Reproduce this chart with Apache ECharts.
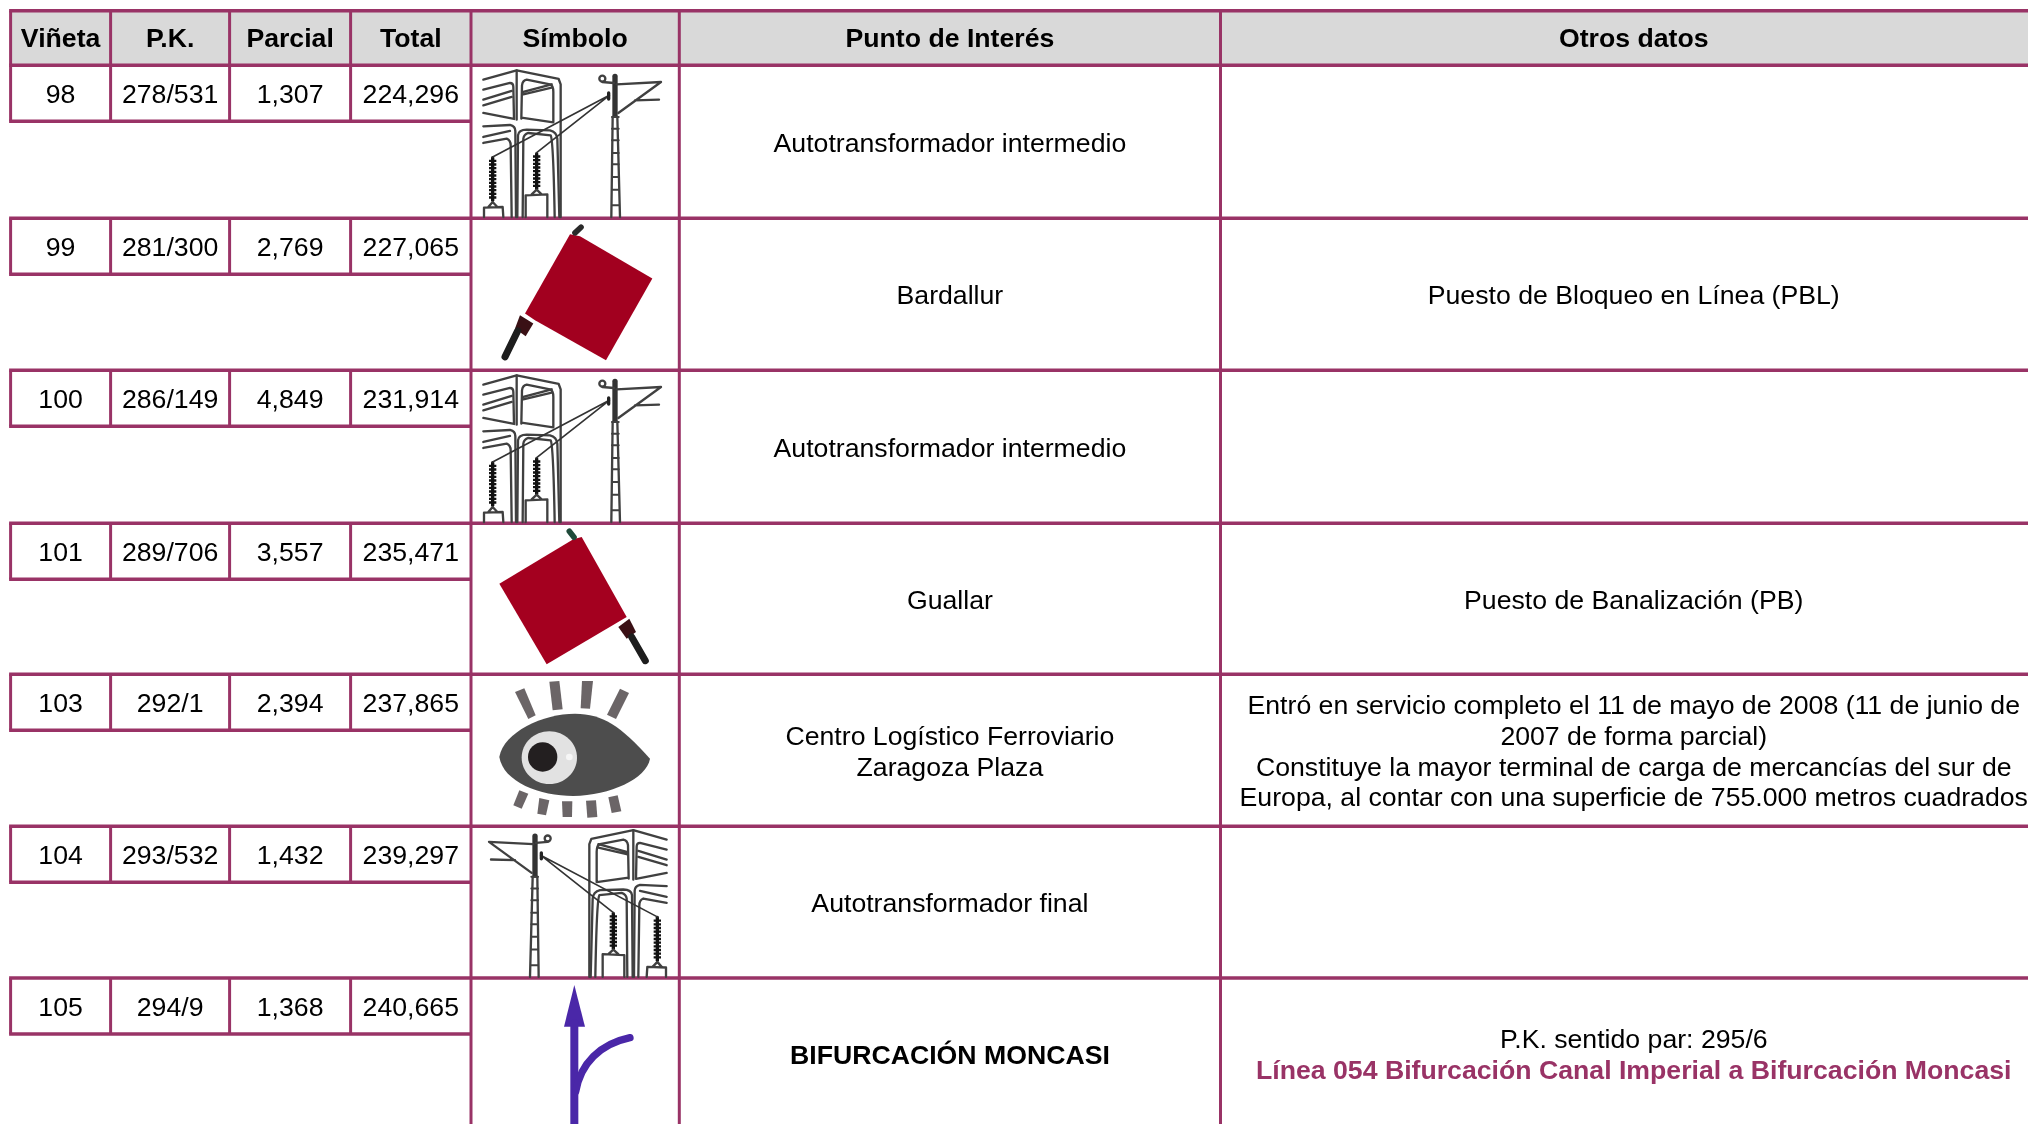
<!DOCTYPE html>
<html>
<head>
<meta charset="utf-8">
<title>Línea 050</title>
<script src="https://cdn.jsdelivr.net/npm/echarts@6/dist/echarts.min.js"></script>
<style>
  html,body{margin:0;padding:0;background:#fff;}
  #main{width:2028px;height:1124px;overflow:hidden;}
</style>
</head>
<body>
<div id="main"></div>
<script>
// datos de la tabla
const cabeceras = ['Viñeta','P.K.','Parcial','Total','Símbolo','Punto de Interés','Otros datos']
const vinetas = ['98','99','100','101','103','104','105']
const pks = ['278/531','281/300','286/149','289/706','292/1','293/532','294/9']
const parciales = ['1,307','2,769','4,849','3,557','2,394','1,432','1,368']
const totales = ['224,296','227,065','231,914','235,471','237,865','239,297','240,665']
const simbolos = ['catenaria','banderaIzq','catenaria','banderaDer','ojo','catenariaEsp','bifurcacion']
const puntos = [
  'Autotransformador intermedio',
  'Bardallur',
  'Autotransformador intermedio',
  'Guallar',
  'Centro Logístico Ferroviario\nZaragoza Plaza',
  'Autotransformador final',
  'BIFURCACIÓN MONCASI'
]
const otros = [
  '',
  'Puesto de Bloqueo en Línea (PBL)',
  '',
  'Puesto de Banalización (PB)',
  'Entró en servicio completo el 11 de mayo de 2008 (11 de junio de\n2007 de forma parcial)\nConstituye la mayor terminal de carga de mercancías del sur de\nEuropa, al contar con una superficie de 755.000 metros cuadrados',
  '',
  'P.K. sentido par: 295/6'
]
const otrosEnlace = ['','','','','','','Línea 054 Bifurcación Canal Imperial a Bifurcación Moncasi']
const negrita = [false,false,false,false,false,false,true]

// geometria de la tabla
const colX = [10.6,110.6,229.6,350.6,471,679.3,1220.5,2047]
const filaY = [65.3,218.2,370.3,523.3,674.3,826.2,978,1130]
const cabeceraY = 10.7
const subFila = 56
const morado = '#993366'
const fuente = 'Liberation Sans'
const tam = 26.67
const lineaH = 30.9

// dibujos de los simbolos, en unidades de 1/3 px
const gris = '#404040'
function trazo(d,w,c,raya){
  return {type:'path',shape:{pathData:d},style:{fill:'none',stroke:c||gris,lineWidth:w||7,
    lineCap:raya?'butt':'round',lineJoin:'round',lineDash:raya||null}}
}
function relleno(d,c){
  return {type:'path',shape:{pathData:d},style:{fill:c}}
}
function catenaria(){
  let partes = [
    // caseta
    trazo('M70,58 L170,30 L296,56 L302,72 L302,470'),
    trazo('M170,30 L170,178'),
    trazo('M70,88 L150,68 Q160,68 160,80 L162,176 L70,158'),
    trazo('M70,118 L155,92 M70,135 L155,110'),
    trazo('M184,175 L186,75 Q188,60 200,58 L270,72 Q280,75 280,95 L280,186 L184,172'),
    trazo('M190,95 L275,72 M190,102 L275,82'),
    trazo('M70,198 L150,194 Q166,198 166,212 L168,470'),
    trazo('M70,230 L150,212 M70,248 L140,235 Q152,240 152,255 L155,470'),
    trazo('M172,470 L174,225 Q176,208 200,208 L270,210 Q290,215 292,235 L298,470'),
    trazo('M188,470 L190,235 Q192,222 205,218 L272,225 Q280,240 284,470'),
    // aisladores
    trazo('M98,292 L98,420',10,'#111'),
    trazo('M98,298 L98,418',22,'#111',[7,4]),
    trazo('M230,280 L230,385',10,'#111'),
    trazo('M230,285 L230,383',22,'#111',[7,4]),
    trazo('M72,470 L72,442 L128,440 L130,470 M85,440 L98,425 L112,440'),
    trazo('M197,470 L197,405 L262,402 L262,470 M215,402 L230,388 L245,402'),
    // hilos
    trazo('M98,290 L448,105 M230,277 L448,105',5,'#333'),
    trazo('M446,98 L446,116',10,'#222'),
    // poste
    trazo('M454,470 L458,170 M480,470 L472,170',7),
    trazo('M465,48 L465,165',16,'#333'),
    trazo('M427,65 L462,68',7),
    {type:'circle',shape:{cx:427,cy:55,r:9},style:{fill:'none',stroke:gris,lineWidth:7}},
    trazo('M470,72 L603,65 L475,158 M525,120 L597,118',7)
  ]
  // peldanos
  const peldanos = [170,205,240,278,312,350,388,435]
  peldanos.forEach(y=>{ partes.push(trazo('M456,'+y+' L476,'+y,6)) })
  return partes
}
function banderaIzq(){
  const rojo = '#a2001f'
  return [
    relleno('M330,72 L360,78 L577,205 L438,450 L225,330 L195,310 Z',rojo),
    relleno('M180,315 L220,340 L197,378 L165,355 Z','#3a1015'),
    trazo('M173,362 L135,440',21,'#1d1d1d'),
    trazo('M345,68 L363,51',17,'#2a2a2a')
  ]
}
function banderaDer(){
  const rojo = '#a4001f'
  return [
    relleno('M340,72 L365,65 L500,305 L260,447 L118,205 Z',rojo),
    relleno('M475,335 L508,310 L528,350 L500,370 Z','#3a1015'),
    trazo('M515,365 L556,436',21,'#1d1d1d'),
    trazo('M342,66 L328,48',17,'#1f4a3a')
  ]
}
function ojo(){
  const pest = '#6b6567'
  const pestanas = [
    'M165,530 L193,519 L227,600 L205,611 Z','M268,499 L298,497 L308,582 L278,585 Z',
    'M366,497 L399,497 L390,580 L362,579 Z','M480,520 L507,533 L468,611 L441,598 Z',
    'M178,825 L205,835 L185,880 L160,870 Z','M238,848 L268,855 L258,900 L232,895 Z',
    'M306,858 L337,858 L336,905 L308,905 Z','M378,856 L408,855 L412,905 L382,907 Z',
    'M445,846 L473,840 L484,888 L455,893 Z'
  ]
  let partes = pestanas.map(d=>relleno(d,pest))
  partes.push(relleno('M118,725 C130,650 250,595 345,595 C430,597 480,630 570,730 C560,790 450,840 340,842 C240,842 130,800 118,725 Z','#4d4d4d'))
  partes.push({type:'ellipse',shape:{cx:268,cy:727,rx:83,ry:79},style:{fill:'#e2e2e2'}})
  partes.push({type:'circle',shape:{cx:248,cy:725,r:44},style:{fill:'#231f20'}})
  partes.push({type:'circle',shape:{cx:328,cy:725,r:10},style:{fill:'#f6f6f6'}})
  return partes
}
function bifurcacion(){
  const azul = '#4a27a8'
  return [
    relleno('M343,495 L312,620 L375,620 Z',azul),
    trazo('M343,610 L343,960',24,azul),
    trazo('M347,815 C362,730 420,672 510,653',22,azul)
  ]
}
// dibujo, origen y escala de cada simbolo respecto a la esquina de la celda
const dibujos = {
  catenaria:{partes:catenaria,dx:-11,dy:-5,sx:1/3},
  catenariaEsp:{partes:catenaria,dx:219,dy:-6,sx:-1/3},
  banderaIzq:{partes:banderaIzq,dx:-11,dy:-8,sx:1/3},
  banderaDer:{partes:banderaDer,dx:-11,dy:-8,sx:1/3},
  ojo:{partes:ojo,dx:-11,dy:-159,sx:1/3},
  bifurcacion:{partes:bifurcacion,dx:-11,dy:-158,sx:1/3}
}

function texto(x,y,txt,bold,color){
  return {
    type:'text',x:x,y:y,
    style:{text:txt,fill:color||'#000',font:(bold?'bold ':'')+tam+'px "'+fuente+'"',
      align:'center',verticalAlign:'middle',lineHeight:lineaH}
  }
}
function linea(x1,y1,x2,y2,w){
  return {type:'line',shape:{x1:x1,y1:y1,x2:x2,y2:y2},style:{stroke:morado,lineWidth:w||3.4}}
}

function pintaCabecera(params,api){
  const p0 = api.coord([colX[0],cabeceraY])
  const p1 = api.coord([colX[7],filaY[0]])
  let hijos = [{type:'rect',shape:{x:p0[0],y:p0[1],width:p1[0]-p0[0],height:p1[1]-p0[1]},style:{fill:'#d9d9d9'}}]
  hijos.push(linea(p0[0]-1.5,p0[1],p1[0],p0[1]))
  hijos.push(linea(p0[0]-1.5,p1[1],p1[0],p1[1]))
  colX.slice(0,7).forEach(x=>{
    const a = api.coord([x,cabeceraY]), b = api.coord([x,filaY[0]])
    hijos.push(linea(a[0],a[1],b[0],b[1],3))
  })
  cabeceras.forEach((c,i)=>{
    const m = api.coord([(colX[i]+colX[i+1])/2,(cabeceraY+filaY[0])/2+2])
    hijos.push(texto(m[0],m[1],c,true))
  })
  return {type:'group',children:hijos}
}

function pintaFila(params,api){
  const i = api.value(0)
  const y0 = filaY[i], y1 = filaY[i+1], ym = y0+subFila
  const cy = (y0+ym)/2
  let hijos = []
  // lineas de la fila
  const izq = api.coord([colX[0]-1.5,y0])
  const der = api.coord([colX[7],y1])
  hijos.push(linea(izq[0],der[1],der[0],der[1]))
  const sub = api.coord([colX[4],ym])
  hijos.push(linea(izq[0],sub[1],sub[0],sub[1]))
  for(let c=0;c<4;c++){
    const a = api.coord([colX[c],y0])
    hijos.push(linea(a[0],a[1],a[0],sub[1],3))
  }
  for(let c=4;c<7;c++){
    const a = api.coord([colX[c],y0]), b = api.coord([colX[c],y1])
    hijos.push(linea(a[0],a[1],a[0],b[1],3))
  }
  // numeros
  const numeros = [vinetas[i],pks[i],parciales[i],totales[i]]
  numeros.forEach((n,c)=>{
    const m = api.coord([(colX[c]+colX[c+1])/2,cy+2.5])
    hijos.push(texto(m[0],m[1],n,false))
  })
  // simbolo
  const d = dibujos[simbolos[i]]
  const o = api.coord([colX[4]+d.dx,y0+d.dy])
  hijos.push({type:'group',x:o[0],y:o[1],scaleX:d.sx,scaleY:1/3,children:d.partes()})
  // punto de interes
  const mp = api.coord([(colX[5]+colX[6])/2,(y0+y1)/2+2.5])
  hijos.push(texto(mp[0],mp[1],puntos[i],negrita[i]))
  // otros datos
  const xo = api.coord([(colX[6]+colX[7])/2,0])[0]
  if(otrosEnlace[i]){
    const mo = api.coord([0,(y0+y1)/2+2.5])
    hijos.push(texto(xo,mo[1]-lineaH/2,otros[i],false))
    hijos.push(texto(xo,mo[1]+lineaH/2,otrosEnlace[i],true,morado))
  }else if(otros[i]){
    const mo = api.coord([0,(y0+y1)/2+2.5])
    hijos.push(texto(xo,mo[1],otros[i],false))
  }
  return {type:'group',children:hijos}
}

let miGrafico = echarts.init(document.getElementById('main'),null,{renderer:'canvas'})
miGrafico.setOption({
  animation:false,
  backgroundColor:'#fff',
  grid:{left:0,right:0,top:0,bottom:0},
  xAxis:{type:'value',min:0,max:2028,show:false},
  yAxis:{type:'value',min:0,max:1124,inverse:true,show:false},
  series:[
    {type:'custom',silent:true,clip:false,renderItem:pintaFila,data:vinetas.map((v,i)=>[i])},
    {type:'custom',silent:true,clip:false,renderItem:pintaCabecera,data:[[0]]}
  ]
})
</script>
</body>
</html>
